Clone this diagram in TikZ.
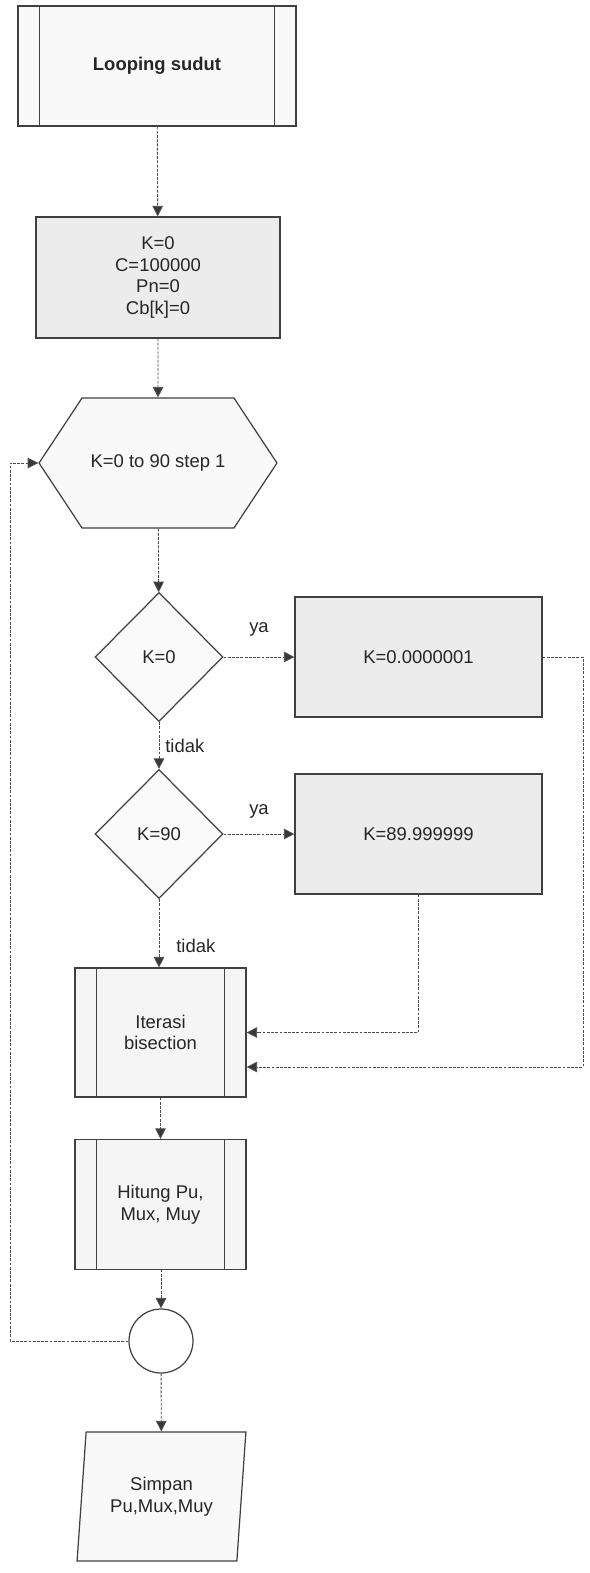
\documentclass[tikz,border=0pt]{standalone}
\usepackage{fontspec}
\setmainfont{Liberation Sans}
\usetikzlibrary{shapes.geometric,shapes.symbols,arrows.meta}

\begin{document}
\begin{tikzpicture}[x=0.02cm, y=-0.02cm,
  every node/.style={font=\fontsize{10.5}{12.3}\selectfont, text=black!85, align=center},
  box/.style={rectangle, draw=black!75, line width=0.7pt, fill=gray!8, inner sep=0pt},
  subbox/.style={box, minimum width=3.42cm, minimum height=2.58cm},
  ask/.style={diamond, aspect=1, draw=black!75, line width=0.7pt, fill=gray!4, inner sep=0pt, minimum width=2.56cm, minimum height=2.58cm},
  conn/.style={draw=black!70, line width=0.5pt, dash pattern=on 1.6pt off 0.8pt, -{Triangle[length=6pt,width=6pt,fill=gray!45!black]}}]
\useasboundingbox (0,0) rectangle (589,1573);

% nodes
\node[box, minimum width=5.56cm, minimum height=2.4cm, fill=gray!5] (loop) at (157,66) {\bfseries Looping sudut};
\node[box, minimum width=4.88cm, minimum height=2.42cm, fill=gray!15] (init) at (158,277.5) {K=0\\C=100000\\Pn=0\\Cb[k]=0};
\node[signal, signal to=east and west, signal pointer angle=113, draw=black!75, line width=0.7pt, fill=gray!5, inner sep=0pt,
      minimum width=4.76cm, minimum height=2.6cm] (for) at (158,463) {K=0 to 90 step 1};
\node[ask] (d1) at (159,657) {K=0};
\node[box, minimum width=4.94cm, minimum height=2.4cm, fill=gray!15] (b1) at (418.5,657) {K=0.0000001};
\node[ask] (d2) at (159,834) {K=90};
\node[box, minimum width=4.94cm, minimum height=2.4cm, fill=gray!15] (b2) at (418.5,834) {K=89.999999};
\node[subbox] (iter) at (160.5,1032.5) {Iterasi\\bisection};
\node[subbox, minimum height=2.6cm] (hit) at (160.5,1204.5) {Hitung Pu,\\Mux, Muy};
\node[circle, draw=black!75, line width=0.7pt, fill=white, minimum size=1.28cm, inner sep=0pt] (con) at (161,1341) {};
\node[trapezium, trapezium stretches=true, trapezium left angle=81, trapezium right angle=99, draw=black!75, line width=0.7pt,
      fill=gray!5, inner sep=0pt, minimum width=3.38cm, minimum height=2.58cm] (save) at (161.5,1496.5) {Simpan\\Pu,Mux,Muy};

% side bars of the sub-process boxes
\foreach \n in {loop,iter,hit}
  \draw[black!75, line width=0.7pt] ([xshift=0.44cm]\n.north west) -- ([xshift=0.44cm]\n.south west)
    ([xshift=-0.44cm]\n.north east) -- ([xshift=-0.44cm]\n.south east);

\coordinate (r1) at (583,1067);
\coordinate (lp) at (10,1341);

% connectors
\draw[conn] (loop) -- (init);
\draw[conn] (init) -- (for);
\draw[conn] (for) -- (d1);
\draw[conn] (d1) -- node[above=0.28cm] {ya} (b1);
\draw[conn] (d1) -- node[right] {tidak} (d2);
\draw[conn] (d2) -- node[above=0.18cm] {ya} (b2);
\draw[conn] (d2.south) -- node[pos=0.69, right=0.22cm] {tidak} (d2.south |- iter.north);
\draw[conn] (b2.south) |- (iter.east);
\draw[conn] (b1.east) -| (r1) -- (r1 -| iter.east);
\draw[conn] (iter) -- (hit);
\draw[conn] (hit.south) -- (hit.south -| con.north) -- (con.north);
\draw[conn] (con) -- (save);
\draw[conn] (con.west) -- (lp) |- (for.west);
\end{tikzpicture}
\end{document}
